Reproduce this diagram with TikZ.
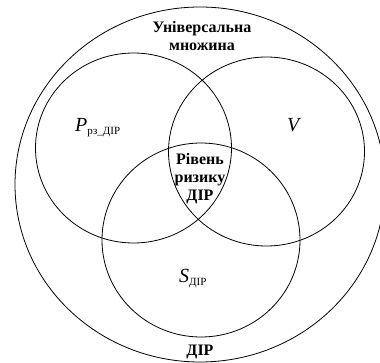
\documentclass[tikz,border=0pt]{standalone}
\usepackage{fontspec}
\setmainfont{Liberation Serif}
\usetikzlibrary{positioning}
\tikzset{
  setring/.style={draw=black, line width=0.8pt},
  boldlabel/.style={font=\fontsize{16}{18}\selectfont\bfseries, align=center, inner sep=0pt},
  setlabel/.style={font=\fontsize{20}{22}\selectfont, inner sep=0pt, anchor=base west}
}
\newcommand{\subtxt}[1]{\raisebox{-3pt}{\fontsize{11}{11}\selectfont #1}}

\begin{document}
\begin{tikzpicture}[x=1pt,y=-1pt]
  \useasboundingbox (0,0) rectangle (380,363);

  % universal set and the three sets
  \draw[setring] (200,184.5) ellipse [x radius=185, y radius=177.5];
  \draw[setring] (133.5,148) ellipse [x radius=98, y radius=95];
  \draw[setring] (266.5,151.5) ellipse [x radius=98, y radius=94.5];
  \draw[setring] (201,240) ellipse [x radius=99, y radius=97];

  % labels
  \node[boldlabel] (univ) at (202,36) {Універсальна\\множина};
  \node[boldlabel] (risk) at (200,179) {Рівень\\ризику\\ДІР};
  \node[boldlabel, anchor=base] (dir) at (200,355) {ДІР};
  \node[setlabel] (pset) at (75,132) {\textit{P}\subtxt{рз\_ДІР}};
  \node[setlabel] (vset) at (287,132) {\textit{V}};
  \node[setlabel] (sset) at (179,283) {\textit{S}\subtxt{ДІР}};
\end{tikzpicture}
\end{document}
